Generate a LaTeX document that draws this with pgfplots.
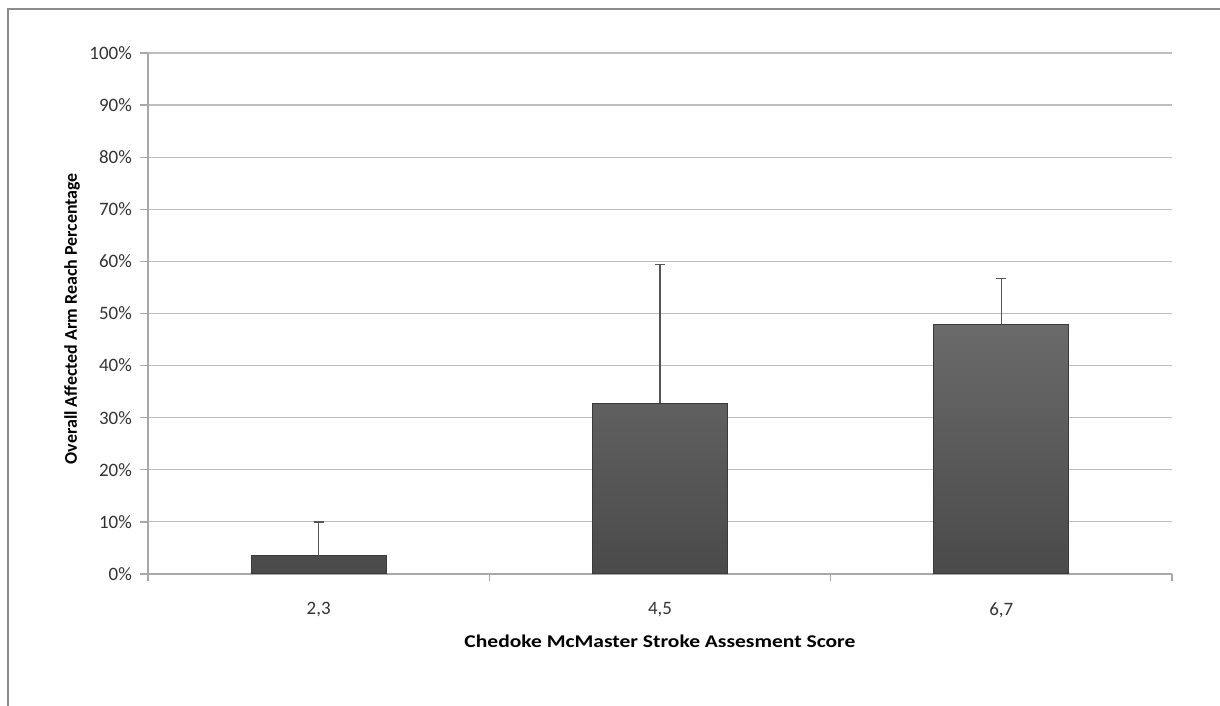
\documentclass[border=0pt]{standalone}
\usepackage{pgfplots}
\pgfplotsset{compat=1.18}
\usepackage{fontspec}
\setmainfont{Carlito}
\newfontfamily\xlabfont[FakeStretch=1.2]{Carlito}
\definecolor{gridc}{HTML}{BDBDBD}
\definecolor{axc}{HTML}{A8A8A8}
\definecolor{bartop}{HTML}{6A6A6A}
\definecolor{barbot}{HTML}{4A4A4A}
\definecolor{baredge}{HTML}{3A3A3A}
\definecolor{errc}{HTML}{555555}
\definecolor{txt}{HTML}{333333}
\begin{document}
\begin{tikzpicture}
\useasboundingbox (0,0) rectangle (1220bp,706bp);
\draw[color=gray!90, line width=1.6bp] (8bp,-2bp) -- (8bp,697bp) -- (1222bp,697bp);
\begin{axis}[
  at={(148bp,132bp)}, anchor=south west,
  scale only axis, width=1024bp, height=521bp,
  xmin=-0.5, xmax=2.5, ymin=0, ymax=100,
  axis lines*=left,
  axis line style={color=axc, line width=1.3bp},
  xtick={0,1,2}, xticklabels={{2,3},{4,5},{6,7}},
  major x tick style={draw=none},
  extra x ticks={-0.5,0.5,1.5,2.5}, extra x tick labels={},
  extra x tick style={major tick length=7bp, tick align=outside, grid=none, major x tick style={draw=axc, line width=1.3bp}},
  ytick={0,10,...,100},
  yticklabel={\pgfmathprintnumber{\tick}\%},
  /pgf/number format/assume math mode=true,
  tick align=outside, major tick length=8bp,
  major y tick style={color=axc, line width=1.3bp},
  ymajorgrids, major grid style={color=gridc, line width=1.2bp},
  ticklabel style={font=\fontsize{19}{22}\selectfont, text=txt},
  xticklabel style={anchor=center, yshift=-28bp},
  yticklabel style={anchor=east, inner sep=0pt, xshift=-8bp},
  xlabel={\xlabfont\bfseries Chedoke McMaster Stroke Assesment Score},
  ylabel={Overall Affected Arm Reach Percentage},
  label style={font=\fontsize{18}{21}\selectfont\bfseries},
  xlabel style={at={(axis description cs:0.5,-0.1286)}, anchor=center},
  ylabel style={at={(axis description cs:-0.0742,0.49)}, anchor=center, rotate=0},
  clip=false,
]
\addplot[ybar, bar width=135bp, draw=baredge, line width=1bp, top color=bartop, bottom color=barbot,
  error bars/.cd, y dir=plus, y explicit,
  error bar style={color=errc, line width=1.4bp, top color=errc, bottom color=errc},
  error mark options={color=errc, line width=1.4bp, mark size=5bp, rotate=90}]
  table[x=x, y=y, y error=e] {
  x y e
  0 3.5 6.5
  1 32.8 26.6
  2 47.9 8.8
};
\end{axis}
\end{tikzpicture}
\end{document}
